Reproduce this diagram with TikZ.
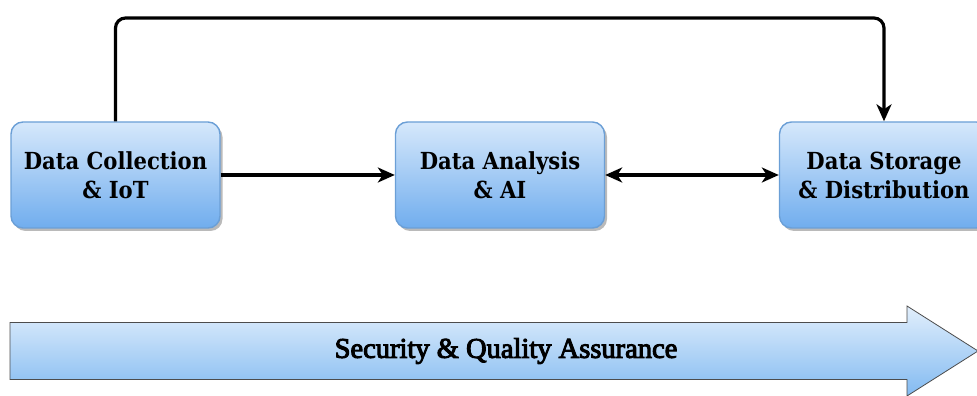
\documentclass[tikz,border=0pt]{standalone}
\usepackage{fontspec}
\newfontfamily\boxfont{DejaVu Serif Condensed}
\newfontfamily\labfont{Liberation Serif}[FakeBold=3.5]
\usetikzlibrary{shadows,arrows.meta}
\definecolor{boxtop}{HTML}{D6E8FB}
\definecolor{boxbot}{HTML}{70ADEE}
\definecolor{boxline}{HTML}{6B9FD6}
\definecolor{arrtop}{HTML}{E2EFFC}
\definecolor{arrbot}{HTML}{82BAF1}
\tikzset{
  stagebox/.style={rectangle, rounded corners=12pt, draw=boxline, line width=1.4pt,
    top color=boxtop, bottom color=boxbot, minimum width=209pt, minimum height=106pt,
    align=center, inner sep=2pt,
    font=\boxfont\bfseries\fontsize{23.5}{29}\selectfont,
    drop shadow={opacity=0.45, shadow xshift=2.5pt, shadow yshift=-3pt, fill=black!60}},
  tip/.tip={Stealth[length=17pt,width=15pt,inset=5pt]},
  conn/.style={line width=3.2pt, -tip},
  conn2/.style={line width=3.2pt, tip-tip},
  bigarrow/.style={draw=black!70, line width=0.8pt, top color=arrtop, bottom color=arrbot},
  arrlabel/.style={font=\labfont\fontsize{28.5}{29}\selectfont}
}
\begin{document}
\begin{tikzpicture}[x=1pt,y=1pt]
\useasboundingbox (0,0) rectangle (977,396);
\node[stagebox] (b1) at (115.5,221) {Data Collection\\ \& IoT};
\node[stagebox] (b2) at (500,221) {Data Analysis\\ \& AI};
\node[stagebox] (b3) at (884,221) {Data Storage\\ \& Distribution};
\coordinate (tc) at (500,378);
\draw[conn] (b1.east) -- (b2.west);
\draw[conn2] (b2.east) -- (b3.west);
\draw[conn, rounded corners=10pt] (b1.north) |- (tc) -| (b3.north);
\path[bigarrow] (10,16.5) -- (10,73.5) -- (907,73.5) -- (907,90) -- (978,45)
  -- (907,0) -- (907,16.5) -- cycle;
\node[arrlabel] (sqa) at (506,45) {Security \& Quality Assurance};
\end{tikzpicture}
\end{document}
